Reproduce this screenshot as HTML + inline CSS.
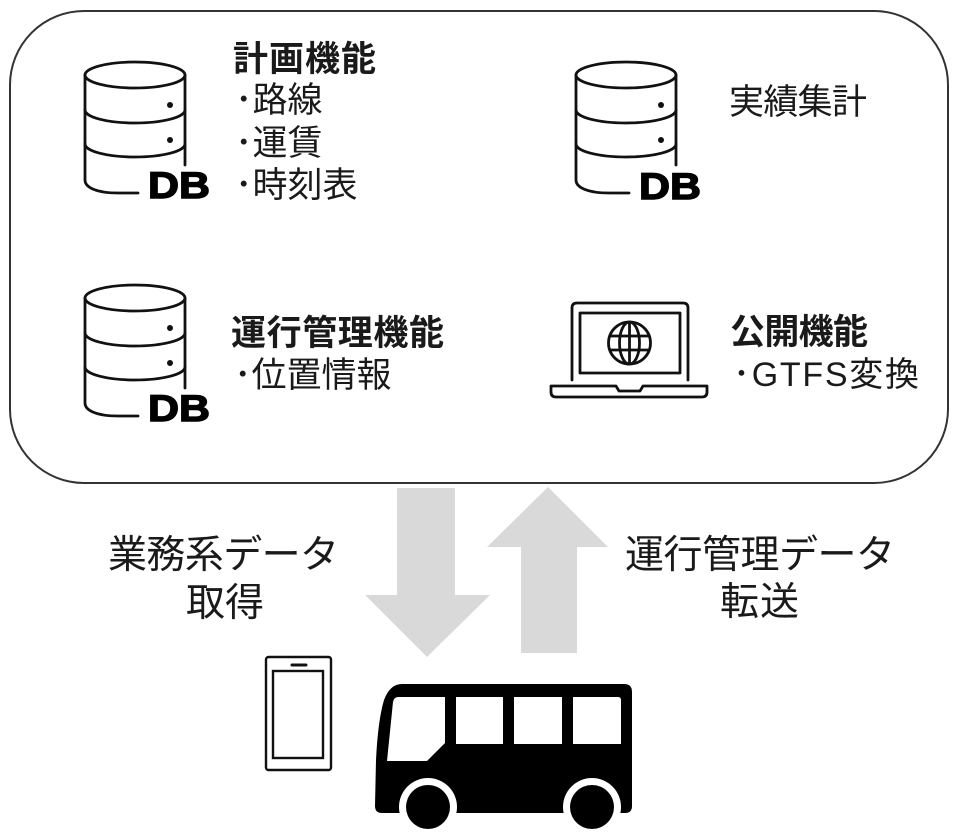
<!DOCTYPE html>
<html>
<head>
<meta charset="utf-8">
<style>
  html,body{margin:0;padding:0;background:#fff;}
  svg{display:block;}
  .t{font-family:"Liberation Sans","Noto Sans CJK JP",sans-serif;fill:#1a1a1a;}
  .b{font-weight:bold;}
  .db{font-family:"Liberation Sans",sans-serif;font-weight:bold;fill:#000;stroke:#000;stroke-width:1.4;}
  .ic{fill:none;stroke:#111;stroke-width:2.8;stroke-linecap:round;stroke-linejoin:round;}
</style>
</head>
<body>
<svg width="960" height="838" viewBox="0 0 960 838" xmlns="http://www.w3.org/2000/svg">
  <!-- outer rounded box -->
  <rect x="10" y="11" width="938" height="472" rx="74" ry="74" fill="#fff" stroke="#333" stroke-width="2"/>

  <!-- DB icon 1 -->
  <g>
    <ellipse class="ic" cx="135" cy="75" rx="50" ry="13"/>
    <path class="ic" d="M85 75 V180 C85 188 98 193 118 193 H138"/>
    <path class="ic" d="M185 75 V165"/>
    <path class="ic" d="M85 110 A50 13 0 0 0 185 110"/>
    <path class="ic" d="M85 144 A50 13 0 0 0 185 144"/>
    <circle cx="170" cy="105" r="3" fill="#111"/>
    <circle cx="170" cy="140" r="3" fill="#111"/>
    <text class="db" x="148" y="198" font-size="37" textLength="62" lengthAdjust="spacingAndGlyphs">DB</text>
  </g>
  <!-- DB icon 2 -->
  <g transform="translate(491,0)">
    <ellipse class="ic" cx="135" cy="75" rx="50" ry="13"/>
    <path class="ic" d="M85 75 V180 C85 188 98 193 118 193 H138"/>
    <path class="ic" d="M185 75 V165"/>
    <path class="ic" d="M85 110 A50 13 0 0 0 185 110"/>
    <path class="ic" d="M85 144 A50 13 0 0 0 185 144"/>
    <circle cx="170" cy="105" r="3" fill="#111"/>
    <circle cx="170" cy="140" r="3" fill="#111"/>
    <text class="db" x="148" y="199" font-size="37" textLength="62" lengthAdjust="spacingAndGlyphs">DB</text>
  </g>
  <!-- DB icon 3 -->
  <g transform="translate(0,223)">
    <ellipse class="ic" cx="135" cy="75" rx="50" ry="13"/>
    <path class="ic" d="M85 75 V180 C85 188 98 193 118 193 H138"/>
    <path class="ic" d="M185 75 V165"/>
    <path class="ic" d="M85 110 A50 13 0 0 0 185 110"/>
    <path class="ic" d="M85 144 A50 13 0 0 0 185 144"/>
    <circle cx="170" cy="105" r="3" fill="#111"/>
    <circle cx="170" cy="140" r="3" fill="#111"/>
    <text class="db" x="148" y="198" font-size="37" textLength="62" lengthAdjust="spacingAndGlyphs">DB</text>
  </g>

  <!-- Laptop -->
  <g>
    <path class="ic" stroke-width="2.4" d="M572 380 V308 Q572 303 577 303 H683 Q688 303 688 308 V380"/>
    <rect class="ic" stroke-width="2.4" x="580" y="313" width="100" height="60"/>
    <circle class="ic" stroke-width="2.4" cx="629.5" cy="343" r="21"/>
    <ellipse class="ic" stroke-width="2.2" cx="629.5" cy="343" rx="10" ry="21"/>
    <line class="ic" stroke-width="2.2" x1="629.5" y1="322" x2="629.5" y2="364"/>
    <line class="ic" stroke-width="2.2" x1="611" y1="336" x2="648" y2="336"/>
    <line class="ic" stroke-width="2.2" x1="611" y1="350" x2="648" y2="350"/>
    <path class="ic" stroke-width="2.4" d="M551 386 H616 L619 391 H640 L643 386 H707 V392 Q707 397 702 397 H556 Q551 397 551 392 Z"/>
  </g>

  <!-- Texts in box -->
  <text class="t b" x="233" y="71" font-size="35" textLength="143">計画機能</text>
  <text class="t" x="235" y="112" font-size="35">･路線</text>
  <text class="t" x="235" y="155" font-size="35">･運賃</text>
  <text class="t" x="235" y="197" font-size="35">･時刻表</text>

  <text class="t" x="729" y="114" font-size="35" textLength="138">実績集計</text>

  <text class="t b" x="231" y="345" font-size="35" textLength="213">運行管理機能</text>
  <text class="t" x="234" y="387" font-size="35">･位置情報</text>

  <text class="t b" x="730" y="344" font-size="35" textLength="138">公開機能</text>
  <text class="t" x="733" y="386" font-size="34" textLength="186">･GTFS変換</text>

  <!-- Arrows -->
  <polygon fill="#d9d9d9" points="397,488 455,488 455,595 490,595 427,657 365,595 397,595"/>
  <polygon fill="#d9d9d9" points="548,487 608,547 577,547 577,653 521,653 521,547 487,547"/>

  <!-- Arrow labels -->
  <text class="t" x="108" y="568" font-size="39" textLength="231">業務系データ</text>
  <text class="t" x="186" y="616" font-size="39" textLength="78">取得</text>
  <text class="t" x="625" y="568" font-size="39" textLength="270">運行管理データ</text>
  <text class="t" x="720" y="615" font-size="39" textLength="79">転送</text>

  <!-- Phone -->
  <g>
    <rect x="266" y="657" width="65" height="113" rx="2.5" fill="none" stroke="#111" stroke-width="2.4"/>
    <rect x="273" y="671" width="50" height="87" fill="none" stroke="#111" stroke-width="2.4"/>
    <line x1="292" y1="665" x2="306" y2="665" stroke="#111" stroke-width="3" stroke-linecap="round"/>
  </g>

  <!-- Bus -->
  <g>
    <path fill="#000" d="M402 684 L624 684 Q632 684 632 692 L632 806 Q632 813 625 813 L382 813 Q375 813 375 806 L376 760 Q378 720 384 700 Q390 684 402 684 Z"/>
    <path fill="#fff" d="M398 697 L445 697 L445 743 L427 761 L387 761 L393 702 Q394 697 398 697 Z"/>
    <rect x="456" y="697" width="47" height="47" fill="#fff"/>
    <rect x="514" y="697" width="48" height="47" fill="#fff"/>
    <path fill="#fff" d="M573 697 H618 Q621 697 621 700 V744 H573 Z"/>
    <circle cx="428" cy="807" r="29" fill="#fff"/>
    <circle cx="592" cy="807" r="29" fill="#fff"/>
    <circle cx="428" cy="807" r="22" fill="#000"/>
    <circle cx="592" cy="807" r="22" fill="#000"/>
  </g>
</svg>
</body>
</html>
